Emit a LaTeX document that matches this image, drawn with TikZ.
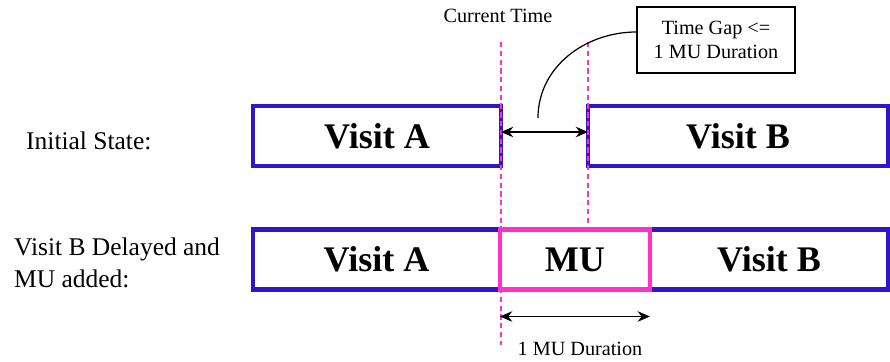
\documentclass[tikz,border=0pt]{standalone}
\usepackage{fontspec}
\newfontfamily\timesfont{Liberation Serif}
\usetikzlibrary{positioning, arrows.meta}

\definecolor{visitblue}{RGB}{50,20,205}
\definecolor{mupink}{RGB}{255,50,200}

\begin{document}
\begin{tikzpicture}[x=0.02cm, y=-0.02cm, >={Stealth[length=7pt, width=6pt]}, node distance=0pt,
      visit/.style={draw=visitblue, line width=2.3pt, outer sep=0pt, minimum height=1.2cm, font=\timesfont\fontsize{20.5}{24}\selectfont\bfseries},
      mublock/.style={visit, draw=mupink},
      rowlabel/.style={font=\timesfont\fontsize{14.5}{18}\selectfont, align=left, anchor=west},
      note/.style={font=\timesfont\fontsize{11.5}{13.7}\selectfont},
      marker/.style={draw=mupink, line width=0.6pt, dash pattern=on 3pt off 2pt}]
    \useasboundingbox (0,0) rectangle (890,362);

    % initial state
    \node[rowlabel] (initlabel) at (20,141) {Initial State:};
    \node[visit, minimum width=4.96cm] (visitA) at (377,136) {Visit A};
    \node[visit, minimum width=6.0cm] (visitB) at (738,136) {Visit B};

    % visit B pushed back, MU in between
    \node[rowlabel] (delaylabel) at (8,263) {Visit B Delayed and\\MU added:};
    \node[visit, minimum width=4.94cm] (delayA) at (376.5,259.5) {Visit A};
    \node[visit, minimum width=4.76cm] (delayB) at (769,259.5) {Visit B};
    \node[mublock, minimum width=3cm, right=of delayA] (mu) {MU};

    % time markers
    \coordinate (nowtop) at (501,42);
    \coordinate (nowbot) at (501,345);
    \coordinate (gaptop) at (588,42);
    \coordinate (gapbot) at (588,226);
    \draw[marker] (nowtop) -- (nowbot);
    \draw[marker] (gaptop) -- (gapbot);
    \node[note] (nowlabel) at (498,16) {Current Time};

    \draw[<->, semithick] ([yshift=0.08cm]visitA.east) -- ([yshift=0.08cm]visitB.west);
    \node[note, draw, line width=0.7pt, minimum width=3.16cm, minimum height=1.32cm, align=center] (gapnote) at (716,40) {Time Gap <=\\1 MU Duration};
    \coordinate (gapfoot) at (538,118);
    \draw[line width=0.7pt] (gapfoot) to[out=90, in=180] ([yshift=0.16cm]gapnote.west);

    \draw[<->, semithick] ([yshift=-0.54cm]mu.south west) -- ([yshift=-0.54cm]mu.south east);
    \node[note] (durlabel) at (580,349) {1 MU Duration};
\end{tikzpicture}
\end{document}
